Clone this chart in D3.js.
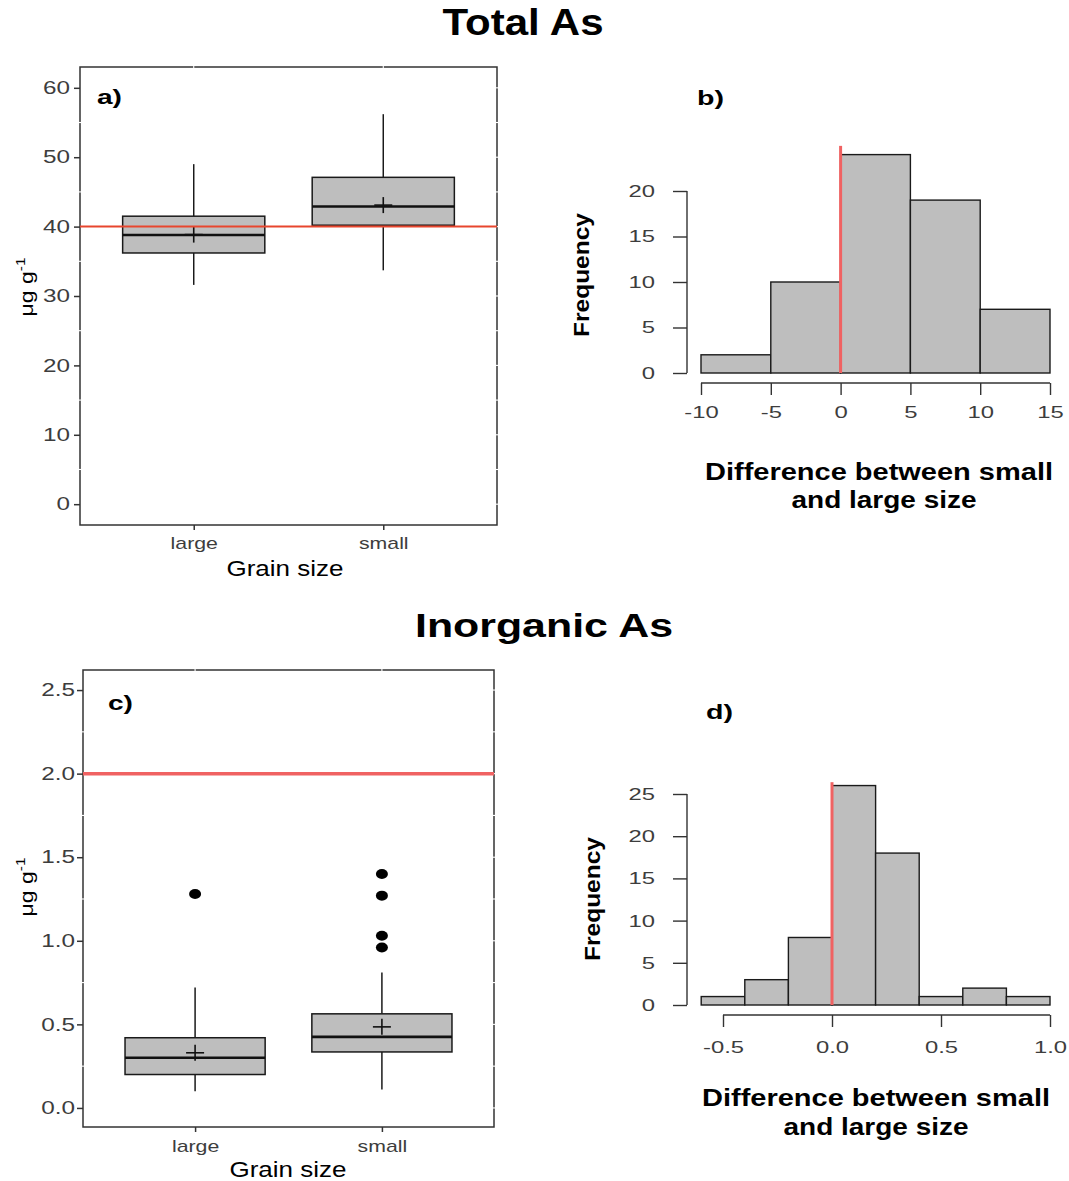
<!DOCTYPE html>
<html><head><meta charset="utf-8">
<script src="https://cdn.jsdelivr.net/npm/d3@7"></script>
<style>
body{margin:0;background:#fff}
svg{display:block}
text{font-family:"Liberation Sans",Arial,Helvetica,sans-serif}
</style>
</head><body>
<svg id="chart" width="1069" height="1181"></svg>
<script>
// ---------------- DATA ----------------
const grainSizes = ["large", "small"];

// Total As (panel a) – boxplot statistics per grain size
const totalLow    = [31.6, 33.7];
const totalQ1     = [36.2, 40.2];
const totalMedian = [38.8, 42.9];
const totalQ3     = [41.5, 47.1];
const totalHigh   = [49.0, 56.2];
const totalMean   = [38.85, 43.1];
const totalOutliers = [[], []];
const totalLimit  = 40;
const totalYTicks = [0, 10, 20, 30, 40, 50, 60];
const totalYMinor = [5, 15, 25, 35, 45, 55];

// Inorganic As (panel c)
const inorgLow    = [0.10, 0.11];
const inorgQ1     = [0.20, 0.335];
const inorgMedian = [0.30, 0.425];
const inorgQ3     = [0.42, 0.563];
const inorgHigh   = [0.72, 0.81];
const inorgMean   = [0.33, 0.485];
const inorgOutliers = [[1.28], [1.40, 1.27, 1.03, 0.96]];
const inorgLimit  = 2.0;
const inorgYTicks = [0.0, 0.5, 1.0, 1.5, 2.0, 2.5];
const inorgYMinor = [0.25, 0.75, 1.25, 1.75, 2.25];

// Histogram b – difference small - large (Total As)
const diffTotalEdges  = [-10, -5, 0, 5, 10, 15];
const diffTotalCounts = [2, 10, 24, 19, 7];
const diffTotalYTicks = [0, 5, 10, 15, 20];
const diffTotalXTicks = [-10, -5, 0, 5, 10, 15];

// Histogram d – difference small - large (Inorganic As)
const diffInorgEdges  = [-0.6, -0.4, -0.2, 0.0, 0.2, 0.4, 0.6, 0.8, 1.0];
const diffInorgCounts = [1, 3, 8, 26, 18, 1, 2, 1];
const diffInorgYTicks = [0, 5, 10, 15, 20, 25];
const diffInorgXTicks = [-0.5, 0.0, 0.5, 1.0];

// ---------------- HELPERS ----------------
const svg = d3.select("#chart");
const FONT = '"Liberation Sans",Arial,Helvetica,sans-serif';
const hyph = f => (d => f(d).replace("\u2212", "-"));

function widen(sel, f) {
  sel.each(function () {
    const L = this.getComputedTextLength();
    this.setAttribute("textLength", (L * f).toFixed(1));
    this.setAttribute("lengthAdjust", "spacingAndGlyphs");
  });
}

function txt(s, x, y, o = {}) {
  const t = svg.append("text")
    .attr("x", x).attr("y", y)
    .attr("font-size", o.size || 16)
    .attr("font-weight", o.weight || "normal")
    .attr("text-anchor", o.anchor || "middle")
    .attr("fill", o.fill || "#000")
    .text(s);
  if (o.rotate) t.attr("transform", `rotate(${o.rotate},${x},${y})`);
  if (o.len) t.attr("textLength", o.len).attr("lengthAdjust", "spacingAndGlyphs");
  return t;
}

function boxPanel(c) {
  const x = d3.scaleLinear().domain([0.4, 2.6]).range([c.left, c.right]);
  const y = d3.scaleLinear().domain(c.yDomain).range([c.bottom, c.top]);
  const g = svg.append("g");

  // frame
  g.append("rect").attr("x", c.left).attr("y", c.top)
    .attr("width", c.right - c.left).attr("height", c.bottom - c.top)
    .attr("fill", "none").attr("stroke", "#333").attr("stroke-width", 1.5);

  // small white grid gaps on the frame (ggplot artefacts)
  const gap = g.append("g").attr("stroke", "#fff").attr("stroke-width", 1.1);
  c.minor.forEach(v => {
    gap.append("line").attr("x1", c.left - 2).attr("x2", c.left + 2).attr("y1", y(v)).attr("y2", y(v));
  });
  c.minor.concat(c.ticks).forEach(v => {
    gap.append("line").attr("x1", c.right - 2).attr("x2", c.right + 2).attr("y1", y(v)).attr("y2", y(v));
  });
  [1, 2].forEach(v => {
    gap.append("line").attr("y1", c.top - 2).attr("y2", c.top + 2).attr("x1", x(v)).attr("x2", x(v));
  });

  // boxes
  const idx = d3.range(grainSizes.length);
  const hw = x(1.375) - x(1);
  idx.forEach(i => {
    const cx = x(i + 1);
    g.append("line").attr("x1", cx).attr("x2", cx).attr("y1", y(c.high[i])).attr("y2", y(c.q3[i]))
      .attr("stroke", "#1a1a1a").attr("stroke-width", 1.5);
    g.append("line").attr("x1", cx).attr("x2", cx).attr("y1", y(c.q1[i])).attr("y2", y(c.low[i]))
      .attr("stroke", "#1a1a1a").attr("stroke-width", 1.5);
    g.append("rect").attr("x", cx - hw).attr("width", 2 * hw)
      .attr("y", y(c.q3[i])).attr("height", y(c.q1[i]) - y(c.q3[i]))
      .attr("fill", "#bebebe").attr("stroke", "#1a1a1a").attr("stroke-width", 1.5);
    g.append("line").attr("x1", cx - hw).attr("x2", cx + hw).attr("y1", y(c.med[i])).attr("y2", y(c.med[i]))
      .attr("stroke", "#111").attr("stroke-width", 2.6);
    const my = y(c.mean[i]);
    g.append("line").attr("x1", cx - 9).attr("x2", cx + 9).attr("y1", my).attr("y2", my)
      .attr("stroke", "#111").attr("stroke-width", 1.6);
    g.append("line").attr("x1", cx).attr("x2", cx).attr("y1", my - 8).attr("y2", my + 8)
      .attr("stroke", "#111").attr("stroke-width", 1.6);
    c.out[i].forEach(v => {
      g.append("ellipse").attr("cx", cx).attr("cy", y(v)).attr("rx", 6).attr("ry", 5).attr("fill", "#000");
    });
  });

  // limit line
  g.append("line").attr("x1", c.left).attr("x2", c.right).attr("y1", y(c.limit)).attr("y2", y(c.limit))
    .attr("stroke", c.limitColor).attr("stroke-width", c.limitWidth);

  // y axis
  const ya = g.append("g").attr("transform", `translate(${c.left},0)`)
    .call(d3.axisLeft(y).tickValues(c.ticks).tickFormat(hyph(c.fmt)).tickSize(6).tickPadding(c.yPad).tickSizeOuter(0))
    .attr("font-family", FONT).attr("font-size", 18);
  ya.select(".domain").remove();
  ya.selectAll("line").attr("stroke", "#333").attr("stroke-width", 1.5);
  ya.selectAll("text").attr("fill", "#3d3d3d");
  widen(ya.selectAll("text"), 1.35);

  // x axis
  const xa = g.append("g").attr("transform", `translate(0,${c.bottom})`)
    .call(d3.axisBottom(x).tickValues([1, 2]).tickFormat(d => grainSizes[d - 1]).tickSize(5).tickPadding(c.xPad).tickSizeOuter(0))
    .attr("font-family", FONT).attr("font-size", 17);
  xa.select(".domain").remove();
  xa.selectAll("line").attr("stroke", "#333").attr("stroke-width", 1.5);
  xa.selectAll("text").attr("fill", "#3d3d3d");
  widen(xa.selectAll("text"), 1.25);

  // labels
  txt("Grain size", c.xLabel[0], c.xLabel[1], { size: 22, len: 117 });
  const yl = txt("μg g", c.yLabel[0], c.yLabel[1], { size: 18, rotate: -90 });
  yl.append("tspan").attr("font-size", 12).attr("dy", -8).text("-1");
  widen(yl, 1.28);
  txt(c.tag, c.tagPos[0], c.tagPos[1], { size: 21, weight: "bold", anchor: "start", len: 25 });
}

function histPanel(c) {
  const x = d3.scaleLinear().domain(c.xDomain).range(c.xRange);
  const y = d3.scaleLinear().domain(c.yDomain).range(c.yRange);
  const g = svg.append("g");

  d3.range(c.counts.length).forEach(i => {
    g.append("rect").attr("x", x(c.edges[i])).attr("width", x(c.edges[i + 1]) - x(c.edges[i]))
      .attr("y", y(c.counts[i])).attr("height", y(0) - y(c.counts[i]))
      .attr("fill", "#bebebe").attr("stroke", "#1a1a1a").attr("stroke-width", 1.4);
  });

  // zero line
  g.append("line").attr("x1", x(0)).attr("x2", x(0)).attr("y1", y(0)).attr("y2", y(c.redTop))
    .attr("stroke", "#f06262").attr("stroke-width", 3);

  // y axis (base R style)
  const ya = g.append("g").attr("transform", `translate(${c.yAxisX},0)`)
    .call(d3.axisLeft(y).tickValues(c.yTicks).tickSize(14).tickPadding(18).tickSizeOuter(0))
    .attr("font-family", FONT).attr("font-size", 17);
  ya.select(".domain").remove();
  ya.append("line").attr("x1", 0).attr("x2", 0)
    .attr("y1", y(c.yTicks[0])).attr("y2", y(c.yTicks[c.yTicks.length - 1]));
  ya.selectAll("line").attr("stroke", "#333").attr("stroke-width", 1.4);
  ya.selectAll("text").attr("fill", "#3d3d3d");
  widen(ya.selectAll("text"), 1.4);

  // x axis
  const xa = g.append("g").attr("transform", `translate(0,${c.xAxisY})`)
    .call(d3.axisBottom(x).tickValues(c.xTicks).tickFormat(hyph(c.fmt)).tickSize(12).tickPadding(c.xPad).tickSizeOuter(0))
    .attr("font-family", FONT).attr("font-size", 17);
  xa.select(".domain").remove();
  xa.append("line").attr("y1", 0).attr("y2", 0)
    .attr("x1", x(c.xTicks[0])).attr("x2", x(c.xTicks[c.xTicks.length - 1]));
  xa.selectAll("line").attr("stroke", "#333").attr("stroke-width", 1.4);
  xa.selectAll("text").attr("fill", "#3d3d3d");
  widen(xa.selectAll("text"), 1.4);

  txt("Frequency", c.freqPos[0], c.freqPos[1], { size: 22, weight: "bold", rotate: -90, len: 124 });
  txt("Difference between small", c.lab1[0], c.lab1[1], { size: 24, weight: "bold", len: 348 });
  txt("and large size", c.lab2[0], c.lab2[1], { size: 24, weight: "bold", len: 185 });
  txt(c.tag, c.tagPos[0], c.tagPos[1], { size: 21, weight: "bold", anchor: "start", len: 27 });
}

// ---------------- TITLES ----------------
txt("Total As", 523, 35, { size: 36, weight: "bold", len: 161 });
txt("Inorganic As", 544, 637, { size: 33, weight: "bold", len: 258 });

// ---------------- PANELS ----------------
boxPanel({
  left: 80, right: 497, top: 67, bottom: 525, yDomain: [-3, 63],
  ticks: totalYTicks, minor: totalYMinor, fmt: d3.format("d"),
  low: totalLow, q1: totalQ1, med: totalMedian, q3: totalQ3, high: totalHigh, mean: totalMean, out: totalOutliers,
  limit: totalLimit, limitColor: "#e8462e", limitWidth: 2,
  yPad: 4, xPad: 7, xLabel: [285, 576], yLabel: [33, 287], tag: "a)", tagPos: [97, 104]
});

boxPanel({
  left: 83, right: 494, top: 670, bottom: 1127, yDomain: [-0.114, 2.62],
  ticks: inorgYTicks, minor: inorgYMinor, fmt: d3.format(".1f"),
  low: inorgLow, q1: inorgQ1, med: inorgMedian, q3: inorgQ3, high: inorgHigh, mean: inorgMean, out: inorgOutliers,
  limit: inorgLimit, limitColor: "#f06262", limitWidth: 3.5,
  yPad: 2, xPad: 8, xLabel: [288, 1177], yLabel: [33, 887], tag: "c)", tagPos: [108, 710]
});

histPanel({
  edges: diffTotalEdges, counts: diffTotalCounts, yTicks: diffTotalYTicks, xTicks: diffTotalXTicks,
  xDomain: [-10, 15], xRange: [701, 1050], yDomain: [0, 20], yRange: [373, 191],
  redTop: 24.96, yAxisX: 687, xAxisY: 383, xPad: 11, fmt: d3.format("d"),
  freqPos: [589, 275], lab1: [879, 480], lab2: [884, 508], tag: "b)", tagPos: [697, 105]
});

histPanel({
  edges: diffInorgEdges, counts: diffInorgCounts, yTicks: diffInorgYTicks, xTicks: diffInorgXTicks,
  xDomain: [-0.5, 1.0], xRange: [723, 1050], yDomain: [0, 25], yRange: [1005, 794],
  redTop: 26.4, yAxisX: 687, xAxisY: 1015, xPad: 14, fmt: d3.format(".1f"),
  freqPos: [600, 899], lab1: [876, 1106], lab2: [876, 1135], tag: "d)", tagPos: [706, 719]
});
</script>
</body></html>
